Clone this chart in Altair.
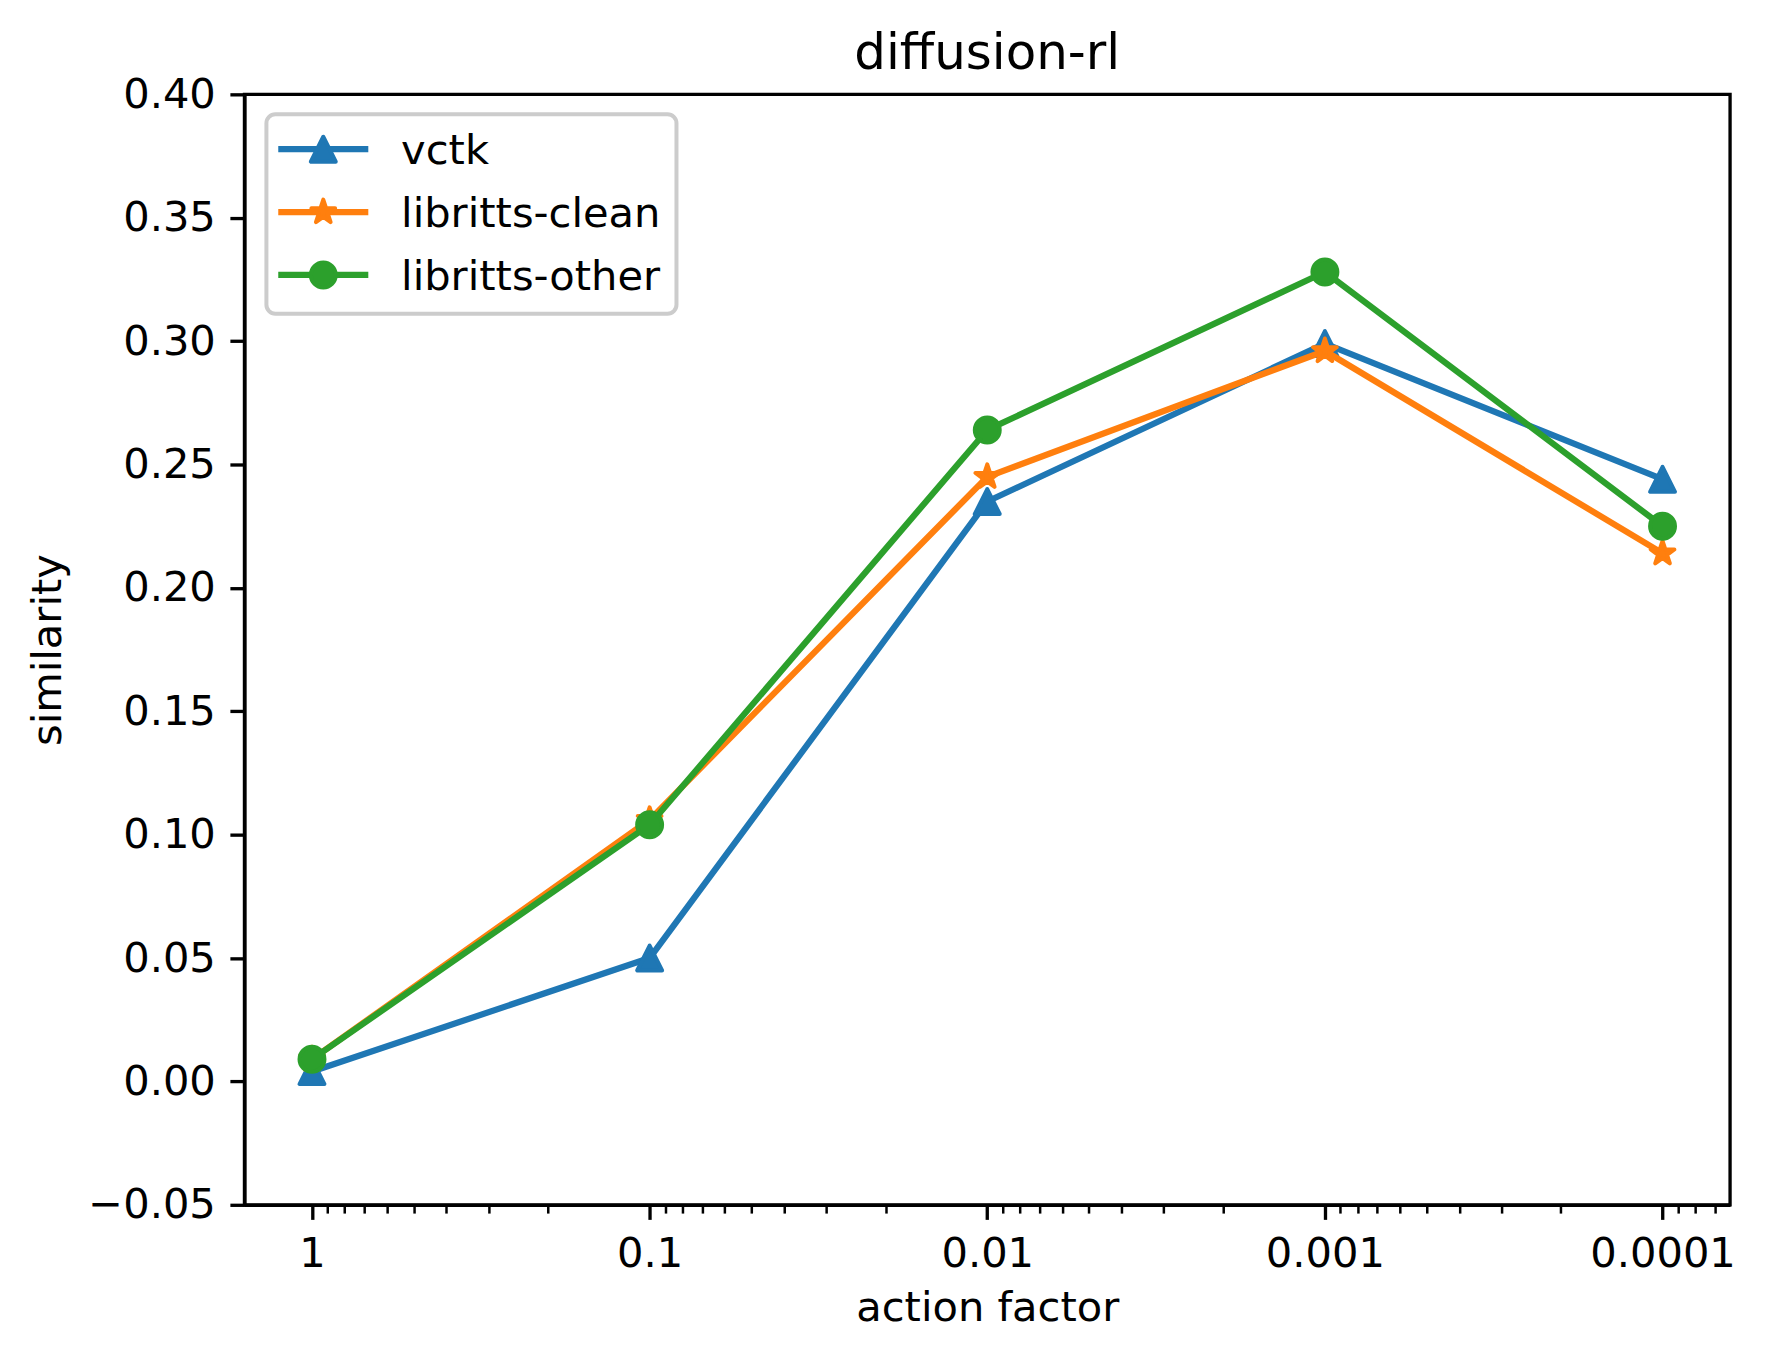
import altair as alt
import pandas as pd
import math

# ---- data ----
factors = [1, 0.1, 0.01, 0.001, 0.0001]
series_names = ["vctk", "libritts-clean", "libritts-other"]
vctk = [0.004, 0.050, 0.235, 0.299, 0.244]
libritts_clean = [0.009, 0.106, 0.245, 0.296, 0.214]
libritts_other = [0.009, 0.104, 0.264, 0.328, 0.225]
y_ticks = [-0.05, 0.0, 0.05, 0.10, 0.15, 0.20, 0.25, 0.30, 0.35, 0.40]
minor_mult = [2, 3, 4, 5, 6, 7, 8, 9]
minor_decades = [0.1, 0.01, 0.001, 0.0001, 0.00001]
minor_ticks = [m * d for d in minor_decades for m in minor_mult]
minor_ticks = [v for v in minor_ticks if 6.31e-5 < v < 1.0]
chart_title = "diffusion-rl"

colors = ["#1f77b4", "#ff7f0e", "#2ca02c"]

# marker shapes (unit paths)
TRI = "M0,-1L-1,1L1,1Z"
star_pts = []
for k in range(10):
    ang = math.radians(-90 + 36 * k)
    r = 1.0 if k % 2 == 0 else 0.381966
    star_pts.append((r * math.cos(ang), r * math.sin(ang)))
STAR = "M" + "L".join(f"{x:.4f},{y:.4f}" for x, y in star_pts) + "Z"
shapes = [TRI, STAR, "circle"]

values_all = [vctk, libritts_clean, libritts_other]

W, H = 1489, 1113
FS = 41.7
FONT = "DejaVu Sans"

x_scale = alt.Scale(type="log", domain=[10 ** -4.2, 10 ** 0.2], reverse=True, nice=False)
y_scale = alt.Scale(domain=[-0.05, 0.40], nice=False, zero=False)

major_axis = alt.Axis(
    values=factors,
    labelExpr="datum.value >= 1 ? '1' : format(datum.value, '.4~f')",
    title="action factor",
    orient="bottom",
    grid=False,
    tickSize=14.6,
    tickWidth=3.33,
    tickColor="black",
    domainColor="black",
    domainWidth=3.33,
    labelFontSize=FS,
    labelFont=FONT,
    labelColor="black",
    labelPadding=14.6,
    labelOverlap=False,
    labelFlush=False,
    titleFontSize=FS,
    titleFont=FONT,
    titleFontWeight="normal",
    titleColor="black",
    titlePadding=12,
)
minor_axis = alt.Axis(
    values=minor_ticks,
    labels=False,
    title=None,
    orient="bottom",
    grid=False,
    domain=False,
    tickSize=8.3,
    tickWidth=2.5,
    tickColor="black",
)
y_axis = alt.Axis(
    values=y_ticks,
    format=".2f",
    title="similarity",
    grid=False,
    tickSize=14.6,
    tickWidth=3.33,
    tickColor="black",
    domainColor="black",
    domainWidth=3.33,
    labelFontSize=FS,
    labelFont=FONT,
    labelColor="black",
    labelPadding=14.6,
    labelOverlap=False,
    labelFlush=False,
    titleFontSize=FS,
    titleFont=FONT,
    titleFontWeight="normal",
    titleColor="black",
    titlePadding=18,
)

layers = []
for i, (name, vals) in enumerate(zip(series_names, values_all)):
    df = pd.DataFrame({"factor": factors, "similarity": vals, "series": name})
    xa = major_axis if i == 0 else None
    line = alt.Chart(df).mark_line(
        color=colors[i], strokeWidth=6.25, strokeJoin="round", strokeCap="square"
    ).encode(
        x=alt.X("factor:Q", scale=x_scale, axis=xa),
        y=alt.Y("similarity:Q", scale=y_scale, axis=y_axis),
    )
    xa2 = minor_axis if i == 0 else None
    pts = alt.Chart(df).mark_point(
        shape=shapes[i], filled=True, size=625, color=colors[i], fill=colors[i],
        stroke=colors[i], strokeWidth=4, strokeJoin="round", opacity=1,
    ).encode(
        x=alt.X("factor:Q", scale=x_scale, axis=xa2),
        y=alt.Y("similarity:Q", scale=y_scale, axis=y_axis),
    )
    layers += [line, pts]

# ---- legend (upper left, matplotlib style) ----
leg_df = pd.DataFrame({"series": series_names})
box = alt.Chart(leg_df.head(1)).mark_rect(
    fill="white", fillOpacity=0.8, stroke="#cccccc", strokeWidth=4, cornerRadius=9
).encode(x=alt.value(22), x2=alt.value(433), y=alt.value(20), y2=alt.value(220))
layers.append(box)
row_y = [55, 118, 181]
for i, name in enumerate(series_names):
    d = leg_df.iloc[[i]]
    layers.append(
        alt.Chart(d).mark_rule(color=colors[i], strokeWidth=6.25, strokeCap="square").encode(
            x=alt.value(37), x2=alt.value(121), y=alt.value(row_y[i])
        )
    )
    layers.append(
        alt.Chart(d).mark_point(
            shape=shapes[i], filled=True, size=625, fill=colors[i], stroke=colors[i],
            strokeWidth=4, strokeJoin="round", opacity=1,
        ).encode(x=alt.value(79), y=alt.value(row_y[i]))
    )
    layers.append(
        alt.Chart(d).mark_text(
            align="left", baseline="middle", fontSize=FS, font=FONT, color="black", dy=2
        ).encode(x=alt.value(157), y=alt.value(row_y[i]), text="series:N")
    )

# ---- title as text above the plot area ----
title_df = pd.DataFrame({"t": [chart_title]})
layers.append(
    alt.Chart(title_df).mark_text(
        align="center", baseline="alphabetic", fontSize=50, font=FONT, color="black"
    ).encode(x=alt.value(W / 2), y=alt.value(-25), text="t:N")
)

chart = alt.layer(*layers).resolve_axis(x="independent").properties(
    width=W,
    height=H,
    autosize=alt.AutoSizeParams(type="none"),
    padding={"left": 237, "top": 85, "right": 30, "bottom": 147},
    background="white",
).configure_view(stroke="black", strokeWidth=3.33)

chart.save("out.html", embed_options={"renderer": "svg", "actions": False})
